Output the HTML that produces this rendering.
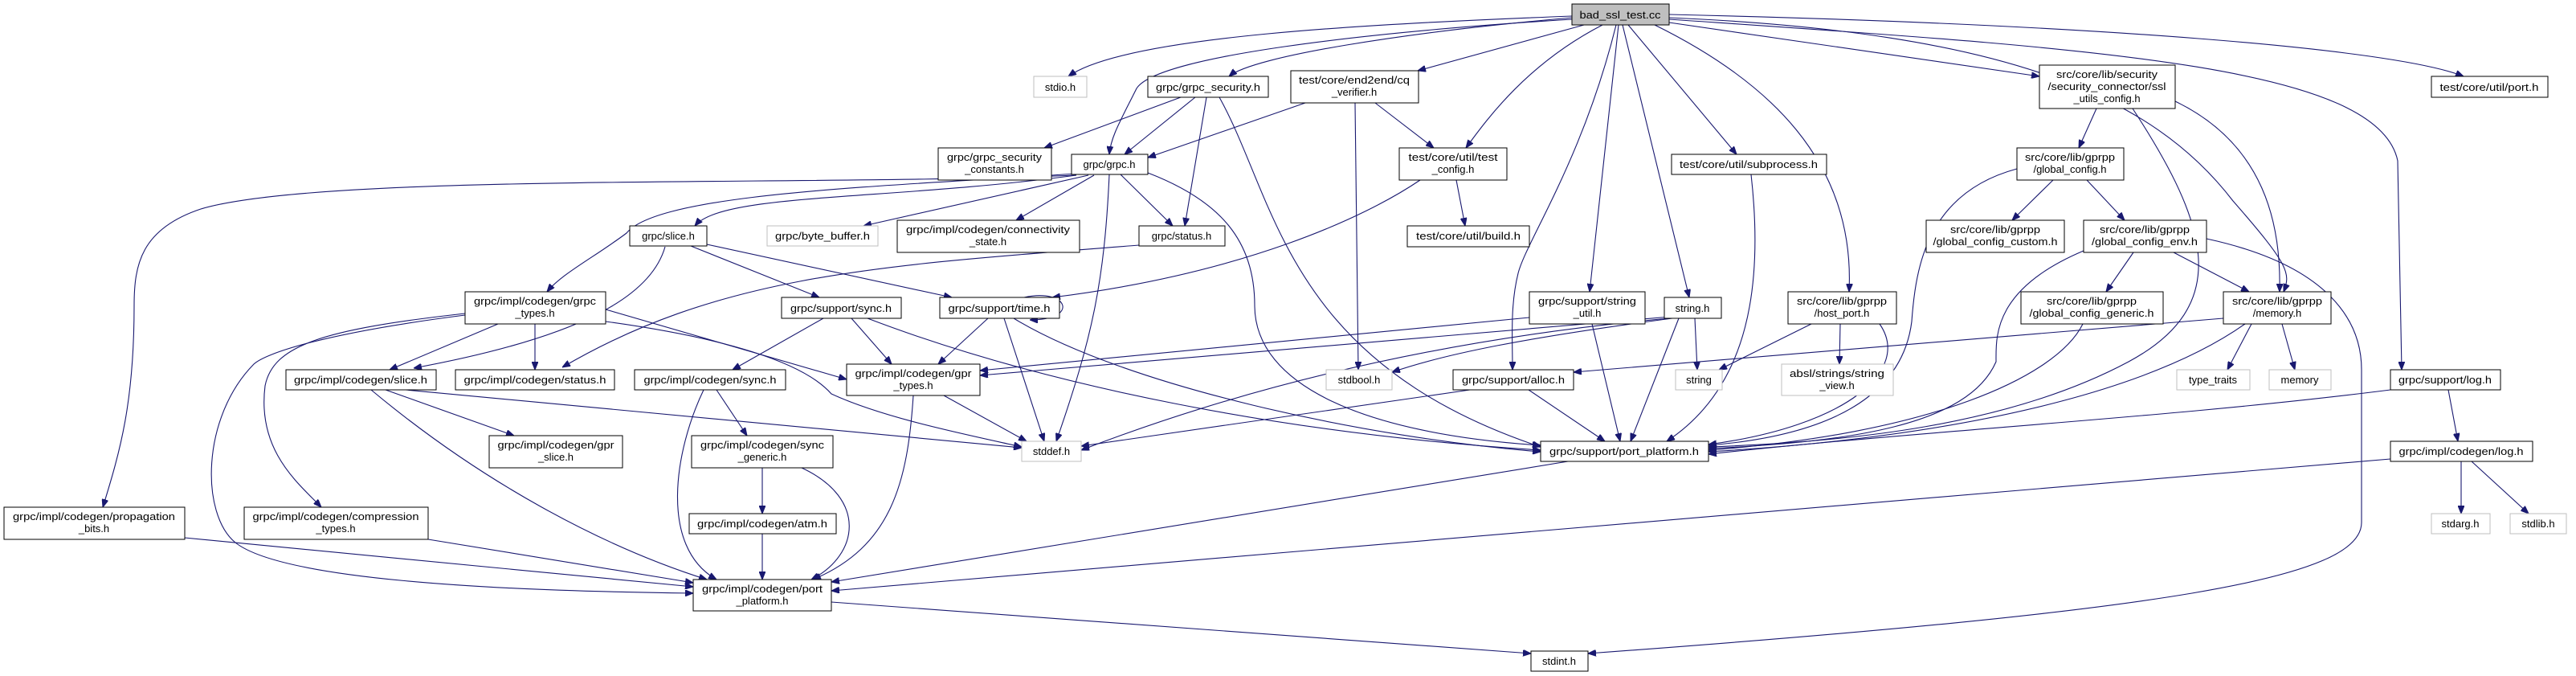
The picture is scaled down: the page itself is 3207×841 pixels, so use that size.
<!DOCTYPE html>
<html><head><meta charset="utf-8"><style>
html,body{margin:0;padding:0;background:#fff;}
svg{display:block;}
text{font-family:"Liberation Sans","DejaVu Sans",sans-serif;font-size:13px;fill:#000;}
.n{fill:#fff;stroke:#000;stroke-width:1;}
.g{fill:#fff;stroke:#bfbfbf;stroke-width:1;}
.e{fill:none;stroke:#191970;stroke-width:1.1;}
</style></head><body>
<svg width="3207" height="841" viewBox="0 0 3207 841" xmlns="http://www.w3.org/2000/svg">
<defs><marker id="a" markerWidth="10" markerHeight="8" refX="10" refY="4" orient="auto" markerUnits="userSpaceOnUse"><path d="M0,0 L10,4 L0,8 z" fill="#191970" stroke="#191970"/></marker></defs>
<g class="e" marker-end="url(#a)">
<path d="M1957,20 C1700,30 1400,45 1330,95"/>
<path d="M1957,22 C1750,40 1560,70 1530,95"/>
<path d="M1957,24 C1700,40 1440,70 1415,110 C1395,150 1383,170 1381,192"/>
<path d="M1972,31 L1765,88"/>
<path d="M1995,31 C1900,80 1850,150 1825,184"/>
<path d="M2012,31 C1970,200 1900,300 1890,340 C1880,380 1883,420 1883,460"/>
<path d="M2015,31 L1979,363"/>
<path d="M2020,31 L2103,370"/>
<path d="M2027,31 L2162,192"/>
<path d="M2060,31 C2200,100 2310,200 2302,363"/>
<path d="M2078,28 L2539,95"/>
<path d="M2078,22 C2500,40 2680,120 2780,250 C2850,330 2852,340 2843,363"/>
<path d="M2078,24 C2600,60 2960,80 2985,200 L2990,460"/>
<path d="M2078,18 C2600,30 2980,60 3067,95"/>
<path d="M1470,121 L1300,184"/>
<path d="M1488,121 L1400,192"/>
<path d="M1502,121 L1475,281"/>
<path d="M1518,121 C1590,250 1600,450 1918,556"/>
<path d="M1625,128 L1429,196"/>
<path d="M1712,128 L1785,184"/>
<path d="M1687,128 L1691,460"/>
<path d="M1768,224 C1700,270 1550,340 1310,370"/>
<path d="M1813,224 L1824,281"/>
<path d="M1340,218 C1000,232 400,215 250,260 C175,285 167,330 167,380 C167,500 150,560 128,631"/>
<path d="M1340,216 C1100,232 820,240 780,290 C740,320 700,340 681,363"/>
<path d="M1340,218 C1100,250 900,240 865,281"/>
<path d="M1355,218 L1075,281"/>
<path d="M1362,218 L1265,274"/>
<path d="M1395,217 L1460,281"/>
<path d="M1381,217 C1375,350 1360,420 1315,549"/>
<path d="M1429,215 C1520,250 1562,300 1562,380 C1562,480 1700,540 1918,554"/>
<path d="M620,403 L485,460"/>
<path d="M666,403 L666,460"/>
<path d="M579,390 C400,410 340,430 330,480 C320,560 370,600 400,631"/>
<path d="M579,392 C400,415 330,440 316,453 C250,520 250,640 293,675 C350,720 600,735 863,738"/>
<path d="M754,385 L1054,472"/>
<path d="M754,400 C900,420 1000,450 1035,490 C1100,520 1200,540 1272,556"/>
<path d="M1418,305 C1100,330 900,340 700,457"/>
<path d="M828,307 C810,370 720,420 515,458"/>
<path d="M860,306 L1020,370"/>
<path d="M880,304 L1185,370"/>
<path d="M1025,396 L912,460"/>
<path d="M1060,396 L1110,453"/>
<path d="M1080,396 C1300,480 1600,540 1918,560"/>
<path d="M1275,370 C1330,358 1345,398 1282,398"/>
<path d="M1230,396 L1168,453"/>
<path d="M1250,396 L1300,549"/>
<path d="M1262,396 C1400,480 1700,545 1918,562"/>
<path d="M480,485 L640,542"/>
<path d="M462,485 C600,600 750,680 880,721"/>
<path d="M505,485 L1272,557"/>
<path d="M892,485 L930,542"/>
<path d="M876,485 C840,560 820,680 892,721"/>
<path d="M949,582 L949,639"/>
<path d="M998,582 C1080,620 1070,690 1010,721"/>
<path d="M949,664 L949,721"/>
<path d="M1175,492 L1278,549"/>
<path d="M1137,492 C1130,600 1110,680 1012,721"/>
<path d="M230,669 L863,730"/>
<path d="M533,671 L863,725"/>
<path d="M1952,574 L1035,724"/>
<path d="M1035,749 L1906,813"/>
<path d="M1904,395 L1220,461"/>
<path d="M1982,403 L2017,549"/>
<path d="M2082,396 C1900,420 1800,440 1733,463"/>
<path d="M2110,396 L2113,460"/>
<path d="M2078,396 C1700,430 1450,520 1346,560"/>
<path d="M2090,396 L2030,549"/>
<path d="M2080,394 L1220,467"/>
<path d="M1830,485 L1346,555"/>
<path d="M1903,485 L1998,549"/>
<path d="M2180,217 C2195,350 2180,480 2075,549"/>
<path d="M2255,403 L2140,460"/>
<path d="M2291,403 L2290,453"/>
<path d="M2340,403 C2380,460 2300,530 2127,553"/>
<path d="M2610,135 L2588,184"/>
<path d="M2708,126 C2820,180 2840,280 2838,363"/>
<path d="M2655,135 C2750,280 2780,380 2650,450 C2500,530 2300,550 2127,556"/>
<path d="M2556,224 L2505,274"/>
<path d="M2598,224 L2645,274"/>
<path d="M2511,210 C2400,240 2385,330 2380,400 C2370,480 2300,540 2127,554"/>
<path d="M2656,314 L2622,363"/>
<path d="M2706,314 L2800,363"/>
<path d="M2594,312 C2480,360 2485,420 2485,450 C2450,530 2300,550 2127,558"/>
<path d="M2747,297 C2900,330 2940,400 2940,460 L2940,650 C2940,720 2700,760 1977,813"/>
<path d="M2593,403 C2560,470 2400,540 2127,560"/>
<path d="M2803,403 L2773,460"/>
<path d="M2841,403 L2857,460"/>
<path d="M2795,403 C2700,470 2500,540 2127,562"/>
<path d="M2768,396 L1959,463"/>
<path d="M2976,485 C2700,520 2400,535 2127,565"/>
<path d="M3048,485 L3060,549"/>
<path d="M3064,574 L3064,639"/>
<path d="M3077,574 L3148,639"/>
<path d="M2976,571 L1035,735"/>
</g>
<g text-anchor="middle">
<rect x="1957" y="5" width="121" height="26" fill="#bfbfbf" stroke="#000"/><text x="2017" y="23" textLength="101" lengthAdjust="spacingAndGlyphs">bad_ssl_test.cc</text>
<rect class="g" x="1287" y="95" width="66" height="26"/><text x="1320" y="113">stdio.h</text>
<rect class="n" x="1429" y="95" width="150" height="26"/><text x="1504" y="113" textLength="130" lengthAdjust="spacingAndGlyphs">grpc/grpc_security.h</text>
<rect class="n" x="1607" y="88" width="159" height="40"/><text x="1686" y="104" textLength="138" lengthAdjust="spacingAndGlyphs">test/core/end2end/cq</text><text x="1686" y="119">_verifier.h</text>
<rect class="n" x="1168" y="184" width="141" height="40"/><text x="1238" y="200" textLength="118" lengthAdjust="spacingAndGlyphs">grpc/grpc_security</text><text x="1238" y="215">_constants.h</text>
<rect class="n" x="1334" y="192" width="95" height="25"/><text x="1381" y="209">grpc/grpc.h</text>
<rect class="n" x="1742" y="184" width="134" height="40"/><text x="1809" y="200" textLength="111" lengthAdjust="spacingAndGlyphs">test/core/util/test</text><text x="1809" y="215">_config.h</text>
<rect class="n" x="2081" y="192" width="193" height="25"/><text x="2177" y="209" textLength="172" lengthAdjust="spacingAndGlyphs">test/core/util/subprocess.h</text>
<rect class="n" x="2539" y="81" width="169" height="54"/><text x="2623" y="97" textLength="126" lengthAdjust="spacingAndGlyphs">src/core/lib/security</text><text x="2623" y="112" textLength="147" lengthAdjust="spacingAndGlyphs">/security_connector/ssl</text><text x="2623" y="127">_utils_config.h</text>
<rect class="n" x="3027" y="95" width="145" height="26"/><text x="3099" y="113" textLength="123" lengthAdjust="spacingAndGlyphs">test/core/util/port.h</text>
<rect class="n" x="2511" y="184" width="133" height="40"/><text x="2577" y="200" textLength="112" lengthAdjust="spacingAndGlyphs">src/core/lib/gprpp</text><text x="2577" y="215">/global_config.h</text>
<rect class="n" x="784" y="281" width="96" height="25"/><text x="832" y="298">grpc/slice.h</text>
<rect class="g" x="955" y="281" width="138" height="25"/><text x="1024" y="298" textLength="118" lengthAdjust="spacingAndGlyphs">grpc/byte_buffer.h</text>
<rect class="n" x="1117" y="274" width="227" height="40"/><text x="1230" y="290" textLength="204" lengthAdjust="spacingAndGlyphs">grpc/impl/codegen/connectivity</text><text x="1230" y="305">_state.h</text>
<rect class="n" x="1418" y="281" width="107" height="25"/><text x="1471" y="298">grpc/status.h</text>
<rect class="n" x="1752" y="281" width="152" height="26"/><text x="1828" y="298" textLength="130" lengthAdjust="spacingAndGlyphs">test/core/util/build.h</text>
<rect class="n" x="2398" y="274" width="172" height="40"/><text x="2484" y="290" textLength="112" lengthAdjust="spacingAndGlyphs">src/core/lib/gprpp</text><text x="2484" y="305" textLength="155" lengthAdjust="spacingAndGlyphs">/global_config_custom.h</text>
<rect class="n" x="2594" y="274" width="153" height="40"/><text x="2670" y="290" textLength="112" lengthAdjust="spacingAndGlyphs">src/core/lib/gprpp</text><text x="2670" y="305" textLength="132" lengthAdjust="spacingAndGlyphs">/global_config_env.h</text>
<rect class="n" x="579" y="363" width="175" height="40"/><text x="666" y="379" textLength="152" lengthAdjust="spacingAndGlyphs">grpc/impl/codegen/grpc</text><text x="666" y="394">_types.h</text>
<rect class="n" x="973" y="370" width="149" height="26"/><text x="1047" y="388" textLength="126" lengthAdjust="spacingAndGlyphs">grpc/support/sync.h</text>
<rect class="n" x="1170" y="370" width="149" height="26"/><text x="1244" y="388" textLength="127" lengthAdjust="spacingAndGlyphs">grpc/support/time.h</text>
<rect class="n" x="1904" y="363" width="144" height="40"/><text x="1976" y="379" textLength="122" lengthAdjust="spacingAndGlyphs">grpc/support/string</text><text x="1976" y="394">_util.h</text>
<rect class="n" x="2072" y="370" width="71" height="26"/><text x="2107" y="388">string.h</text>
<rect class="n" x="2226" y="363" width="135" height="40"/><text x="2293" y="379" textLength="112" lengthAdjust="spacingAndGlyphs">src/core/lib/gprpp</text><text x="2293" y="394">/host_port.h</text>
<rect class="n" x="2516" y="363" width="177" height="40"/><text x="2604" y="379" textLength="112" lengthAdjust="spacingAndGlyphs">src/core/lib/gprpp</text><text x="2604" y="394" textLength="155" lengthAdjust="spacingAndGlyphs">/global_config_generic.h</text>
<rect class="n" x="2768" y="363" width="134" height="40"/><text x="2835" y="379" textLength="112" lengthAdjust="spacingAndGlyphs">src/core/lib/gprpp</text><text x="2835" y="394">/memory.h</text>
<rect class="n" x="356" y="460" width="187" height="25"/><text x="449" y="477" textLength="166" lengthAdjust="spacingAndGlyphs">grpc/impl/codegen/slice.h</text>
<rect class="n" x="567" y="460" width="198" height="25"/><text x="666" y="477" textLength="177" lengthAdjust="spacingAndGlyphs">grpc/impl/codegen/status.h</text>
<rect class="n" x="790" y="460" width="188" height="25"/><text x="884" y="477" textLength="165" lengthAdjust="spacingAndGlyphs">grpc/impl/codegen/sync.h</text>
<rect class="n" x="1054" y="453" width="166" height="39"/><text x="1137" y="469" textLength="145" lengthAdjust="spacingAndGlyphs">grpc/impl/codegen/gpr</text><text x="1137" y="484">_types.h</text>
<rect class="g" x="1651" y="460" width="82" height="25"/><text x="1692" y="477">stdbool.h</text>
<rect class="n" x="1809" y="460" width="150" height="25"/><text x="1884" y="477" textLength="128" lengthAdjust="spacingAndGlyphs">grpc/support/alloc.h</text>
<rect class="g" x="2086" y="460" width="58" height="25"/><text x="2115" y="477">string</text>
<rect class="g" x="2218" y="453" width="139" height="39"/><text x="2287" y="469" textLength="118" lengthAdjust="spacingAndGlyphs">absl/strings/string</text><text x="2287" y="484">_view.h</text>
<rect class="g" x="2710" y="460" width="91" height="25"/><text x="2755" y="477">type_traits</text>
<rect class="g" x="2825" y="460" width="77" height="25"/><text x="2863" y="477">memory</text>
<rect class="n" x="2976" y="460" width="137" height="25"/><text x="3044" y="477" textLength="116" lengthAdjust="spacingAndGlyphs">grpc/support/log.h</text>
<rect class="n" x="609" y="542" width="166" height="40"/><text x="692" y="558" textLength="145" lengthAdjust="spacingAndGlyphs">grpc/impl/codegen/gpr</text><text x="692" y="573">_slice.h</text>
<rect class="n" x="861" y="542" width="176" height="40"/><text x="949" y="558" textLength="154" lengthAdjust="spacingAndGlyphs">grpc/impl/codegen/sync</text><text x="949" y="573">_generic.h</text>
<rect class="g" x="1272" y="549" width="74" height="25"/><text x="1309" y="566">stddef.h</text>
<rect class="n" x="1918" y="549" width="209" height="25"/><text x="2022" y="566" textLength="186" lengthAdjust="spacingAndGlyphs">grpc/support/port_platform.h</text>
<rect class="n" x="2976" y="549" width="177" height="25"/><text x="3064" y="566" textLength="155" lengthAdjust="spacingAndGlyphs">grpc/impl/codegen/log.h</text>
<rect class="n" x="5" y="631" width="225" height="40"/><text x="117" y="647" textLength="202" lengthAdjust="spacingAndGlyphs">grpc/impl/codegen/propagation</text><text x="117" y="662">_bits.h</text>
<rect class="n" x="304" y="631" width="229" height="40"/><text x="418" y="647" textLength="207" lengthAdjust="spacingAndGlyphs">grpc/impl/codegen/compression</text><text x="418" y="662">_types.h</text>
<rect class="n" x="858" y="639" width="183" height="25"/><text x="949" y="656" textLength="162" lengthAdjust="spacingAndGlyphs">grpc/impl/codegen/atm.h</text>
<rect class="g" x="3027" y="639" width="73" height="25"/><text x="3063" y="656">stdarg.h</text>
<rect class="g" x="3125" y="639" width="70" height="25"/><text x="3160" y="656">stdlib.h</text>
<rect class="n" x="863" y="721" width="172" height="39"/><text x="949" y="737" textLength="150" lengthAdjust="spacingAndGlyphs">grpc/impl/codegen/port</text><text x="949" y="752">_platform.h</text>
<rect class="n" x="1906" y="810" width="71" height="25"/><text x="1941" y="827">stdint.h</text>
</g>
</svg>
</body></html>
